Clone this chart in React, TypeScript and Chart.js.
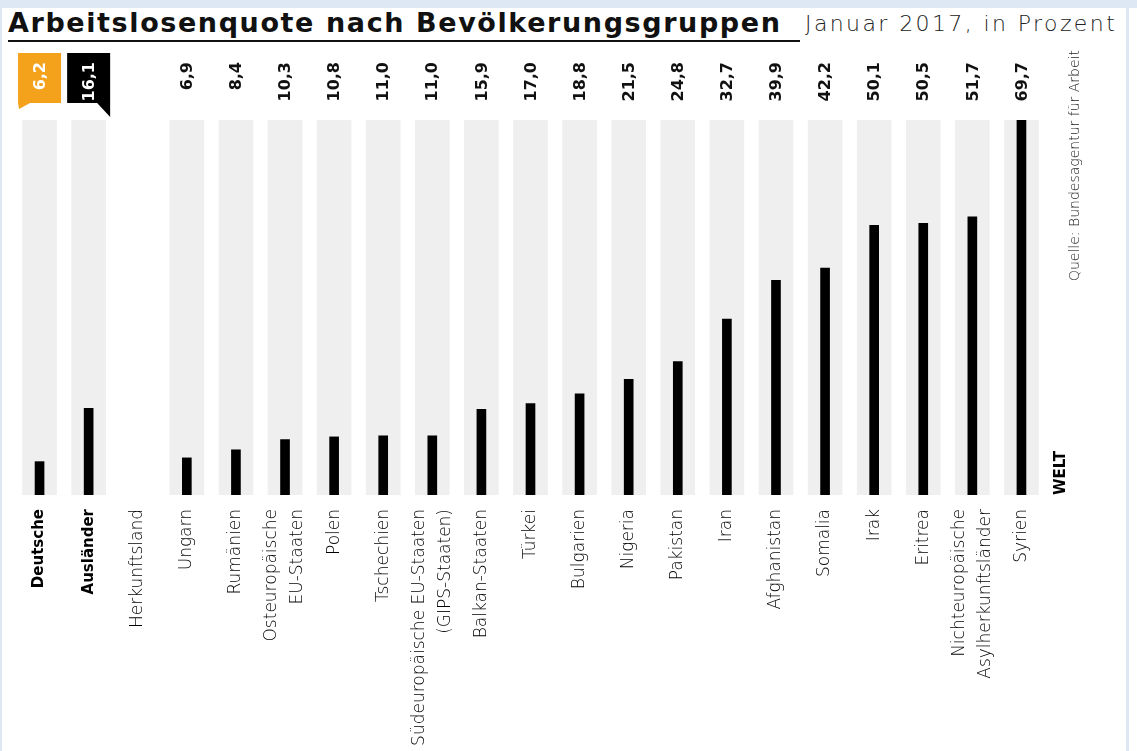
import React, { useEffect, useRef } from "react";
import { Chart, registerables } from "chart.js";

Chart.register(...registerables);

const categories: (string | string[])[] = [
  "Deutsche",
  "Ausländer",
  "Herkunftsland",
  "Ungarn",
  "Rumänien",
  ["Osteuropäische", "EU-Staaten"],
  "Polen",
  "Tschechien",
  ["Südeuropäische EU-Staaten", "(GIPS-Staaten)"],
  "Balkan-Staaten",
  "Türkei",
  "Bulgarien",
  "Nigeria",
  "Pakistan",
  "Iran",
  "Afghanistan",
  "Somalia",
  "Irak",
  "Eritrea",
  ["Nichteuropäische", "Asylherkunftsländer"],
  "Syrien",
];

const quote: (number | null)[] = [
  6.2, 16.1, null, 6.9, 8.4, 10.3, 10.8, 11.0, 11.0, 15.9, 17.0, 18.8, 21.5,
  24.8, 32.7, 39.9, 42.2, 50.1, 50.5, 51.7, 69.7,
];

const valueLabels: string[] = [
  "6,2", "16,1", "", "6,9", "8,4", "10,3", "10,8", "11,0", "11,0", "15,9",
  "17,0", "18,8", "21,5", "24,8", "32,7", "39,9", "42,2", "50,1", "50,5",
  "51,7", "69,7",
];

const Y_MAX = 69.7;
const TITLE = "Arbeitslosenquote nach Bevölkerungsgruppen";
const SUBTITLE = "Januar 2017, in Prozent";
const SOURCE = "Quelle: Bundesagentur für Arbeit";
const BRAND = "WELT";

const ORANGE = "#f4a21b";
const THIN = "'DejaVu Sans', sans-serif";

const labelPlugin = {
  id: "valueLabels",
  afterDraw(chart: any) {
    const ctx = chart.ctx as CanvasRenderingContext2D;
    const x = chart.scales.x;
    const area = chart.chartArea;
    const topY = 17; // text end (top) in canvas coords
    ctx.save();
    valueLabels.forEach((txt, i) => {
      if (!txt) return;
      const px = x.getPixelForValue(i);
      if (i === 0 || i === 1) {
        const L = px - 21.5;
        const R = px + 21.5;
        const T = 8;
        const B = 58;
        ctx.beginPath();
        if (i === 0) {
          ctx.fillStyle = ORANGE;
          ctx.moveTo(L, T);
          ctx.lineTo(R, T);
          ctx.lineTo(R, B);
          ctx.lineTo(L + 12, B);
          ctx.lineTo(L + 1, B + 6);
          ctx.lineTo(L, B);
        } else {
          ctx.fillStyle = "#000";
          ctx.moveTo(L, T);
          ctx.lineTo(R, T);
          ctx.lineTo(R, B + 14);
          ctx.lineTo(R - 13, B);
          ctx.lineTo(L, B);
        }
        ctx.closePath();
        ctx.fill();
      }
      ctx.save();
      ctx.translate(px + 1, topY);
      ctx.rotate(-Math.PI / 2);
      ctx.textAlign = "right";
      ctx.textBaseline = "middle";
      ctx.font = "bold 16px 'DejaVu Sans', sans-serif";
      ctx.fillStyle = i === 0 || i === 1 ? "#fff" : "#111";
      ctx.fillText(txt, 0, 0);
      ctx.restore();
    });

    // category labels (rotated, lines centred on the tick)
    const lineH = 26;
    categories.forEach((lab, i) => {
      const lines = Array.isArray(lab) ? lab : [lab];
      const px = x.getPixelForValue(i);
      const bold = i < 2;
      ctx.save();
      ctx.translate(px, area.bottom + 14);
      ctx.rotate(-Math.PI / 2);
      ctx.textAlign = "right";
      ctx.textBaseline = "middle";
      ctx.font = bold ? "bold 15px 'DejaVu Sans', sans-serif" : "200 17px " + THIN;
      ctx.fillStyle = "#000";
      lines.forEach((ln, k) => {
        const off = (k - (lines.length - 1) / 2) * lineH;
        ctx.fillText(ln, 0, off);
      });
      ctx.restore();
    });

    // source
    ctx.save();
    ctx.translate(1075, 5);
    ctx.rotate(-Math.PI / 2);
    ctx.textAlign = "right";
    ctx.textBaseline = "middle";
    ctx.font = "200 14px " + THIN;
    ctx.fillStyle = "#222";
    ctx.fillText(SOURCE, 0, 0);
    ctx.restore();

    // brand
    ctx.save();
    ctx.translate(1061, area.bottom);
    ctx.rotate(-Math.PI / 2);
    ctx.textAlign = "left";
    ctx.textBaseline = "middle";
    ctx.font = "bold 15px 'DejaVu Sans', sans-serif";
    ctx.fillStyle = "#000";
    ctx.fillText(BRAND, 0, 0);
    ctx.restore();
    ctx.restore();
  },
};

export default function App() {
  const ref = useRef<HTMLCanvasElement>(null);

  useEffect(() => {
    const canvas = ref.current;
    if (!canvas) return;
    const track = quote.map((v) => (v == null ? null : Y_MAX));
    const chart = new Chart(canvas, {
      type: "bar",
      data: {
        labels: categories,
        datasets: [
          {
            data: quote,
            backgroundColor: "#000",
            barThickness: 9,
            grouped: false,
            order: 0,
          },
          {
            data: track,
            backgroundColor: "#efefef",
            barThickness: 34,
            grouped: false,
            order: 1,
          },
        ],
      },
      options: {
        animation: false,
        responsive: false,
        maintainAspectRatio: false,
        events: [],
        layout: { padding: { left: 15, right: 91, top: 75, bottom: 0 } },
        plugins: {
          legend: { display: false },
          tooltip: { enabled: false },
          title: { display: false },
        },
        scales: {
          x: {
            grid: { display: false, drawTicks: false },
            border: { display: false },
            afterFit: (scale: any) => {
              scale.height = 256;
            },
            ticks: { display: false, autoSkip: false },
          },
          y: {
            display: false,
            min: 0,
            max: Y_MAX,
          },
        },
      },
      plugins: [labelPlugin],
    });
    return () => chart.destroy();
  }, []);

  return (
    <div
      style={{
        position: "fixed",
        left: 0,
        top: 0,
        width: 1137,
        height: 751,
        background: "#dde8f4",
        overflow: "hidden",
      }}
    >
      <div
        style={{
          position: "absolute",
          left: 2,
          top: 8,
          width: 1124,
          height: 743,
          background: "#fff",
        }}
      />
      <div
        style={{
          position: "absolute",
          left: 1129,
          top: 8,
          width: 8,
          height: 743,
          background: "#fff",
        }}
      />
      <div
        style={{
          position: "absolute",
          left: 8,
          top: 7,
          whiteSpace: "nowrap",
          fontFamily: "'DejaVu Sans', sans-serif",
          fontWeight: "bold",
          fontSize: 27,
          letterSpacing: 1.6,
          color: "#111",
          lineHeight: "32px",
        }}
      >
        {TITLE}
      </div>
      <div
        style={{
          position: "absolute",
          left: 8,
          top: 40,
          width: 792,
          height: 2,
          background: "#111",
        }}
      />
      <div
        style={{
          position: "absolute",
          left: 805,
          top: 9,
          whiteSpace: "nowrap",
          fontFamily: THIN,
          fontWeight: 200,
          fontSize: 22,
          letterSpacing: 2.4,
          color: "#222",
          lineHeight: "30px",
        }}
      >
        {SUBTITLE}
      </div>
      <canvas
        ref={ref}
        width={1137}
        height={706}
        style={{ position: "absolute", left: 0, top: 45, width: 1137, height: 706 }}
      />
    </div>
  );
}
